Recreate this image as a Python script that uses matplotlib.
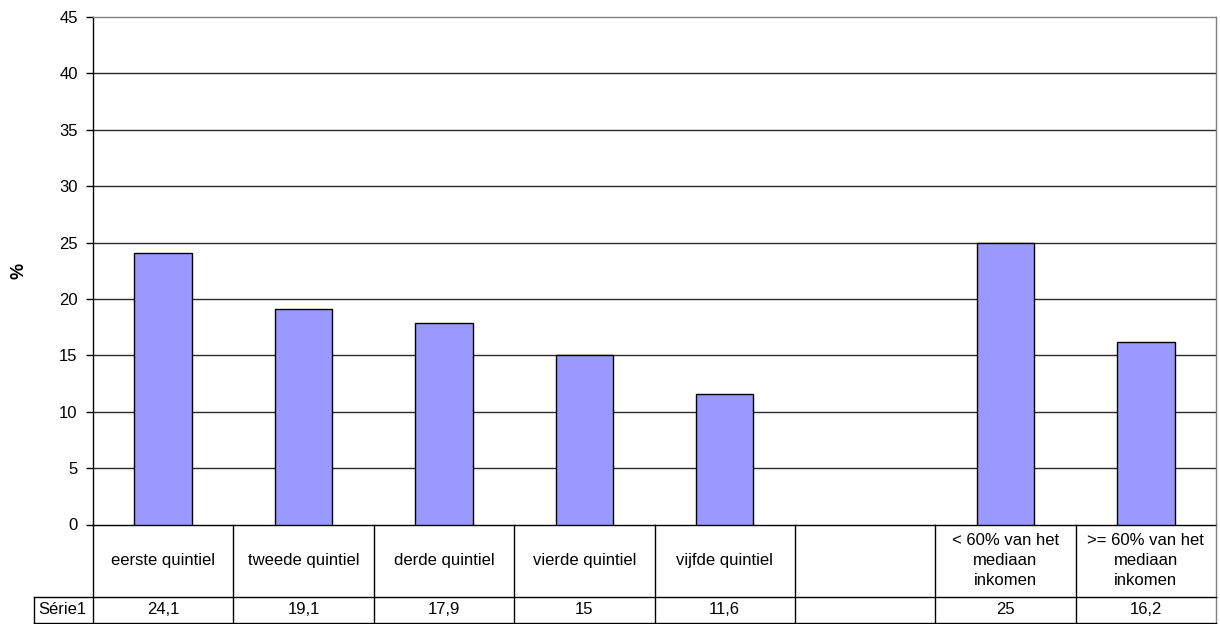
import numpy as np
import matplotlib.pyplot as plt

plt.rcParams['font.family'] = ['Liberation Sans', 'DejaVu Sans']

# data
categories = ['eerste quintiel', 'tweede quintiel', 'derde quintiel', 'vierde quintiel',
              'vijfde quintiel', '', '< 60% van het\nmediaan\ninkomen',
              '>= 60% van het\nmediaan\ninkomen']
values = [24.1, 19.1, 17.9, 15, 11.6, np.nan, 25, 16.2]
series_name = 'Série1'
yticks = [0, 5, 10, 15, 20, 25, 30, 35, 40, 45]


def fmt(v):
    if np.isnan(v):
        return ''
    s = ('%g' % v).replace('.', ',')
    return s


W, H = 1220, 624
fig = plt.figure(figsize=(W / 100, H / 100), dpi=100)

x0, x1 = 93, 1216
y_top, y_zero, y_split, y_bot = 17, 524.5, 597, 623

ax = fig.add_axes([x0 / W, (H - y_zero) / H, (x1 - x0) / W, (y_zero - y_top) / H])
n = len(categories)
x = np.arange(n) + 0.5
ax.bar(x, values, width=0.41, color='#9999FF', edgecolor='black', linewidth=1, zorder=3)
ax.set_xlim(0, n)
ax.set_ylim(0, 45)
ax.set_yticks(yticks)
ax.set_xticks([])
for t in yticks[1:-1]:
    ax.axhline(t, color='#2a2a2a', linewidth=1, zorder=1)
ax.tick_params(axis='y', direction='out', length=5, width=1, pad=6, labelsize=12)
ax.spines['left'].set_color('black')
ax.spines['bottom'].set_color('black')
ax.spines['top'].set_color('#808080')
ax.spines['right'].set_color('#808080')
for s in ax.spines.values():
    s.set_linewidth(1)
ax.set_ylabel('%', fontsize=13, fontweight='bold')
ax.yaxis.label.set_va('center')
ax.yaxis.set_label_coords((19 - x0) / (x1 - x0), 0.5)

# data table under the chart
tb = fig.add_axes([x0 / W, (H - y_bot) / H, (x1 - x0) / W, (y_bot - y_zero) / H])
tb.set_xlim(0, n)
tb.set_ylim(0, 1)
tb.axis('off')
split = (y_bot - y_split) / (y_bot - y_zero)
left_col = (34 - x0) / ((x1 - x0) / n)
lc = 'black'
for i in range(n):
    tb.plot([i, i], [0, 1], color=lc, lw=1, clip_on=False)
tb.plot([n, n], [0, 1], color='#808080', lw=1, clip_on=False)
tb.plot([left_col, n], [split, split], color=lc, lw=1, clip_on=False)
tb.plot([left_col, n], [0, 0], color=lc, lw=1, clip_on=False)
tb.plot([left_col, left_col], [0, split], color=lc, lw=1, clip_on=False)

for i, (c, v) in enumerate(zip(categories, values)):
    tb.text(i + 0.5, (1 + split) / 2, c, ha='center', va='center', fontsize=12,
            linespacing=1.42)
    tb.text(i + 0.5, split / 2, fmt(v), ha='center', va='center', fontsize=12)
tb.text(left_col + 0.03, split / 2, series_name, ha='left', va='center', fontsize=12)

fig.savefig('out.png', dpi=100)
